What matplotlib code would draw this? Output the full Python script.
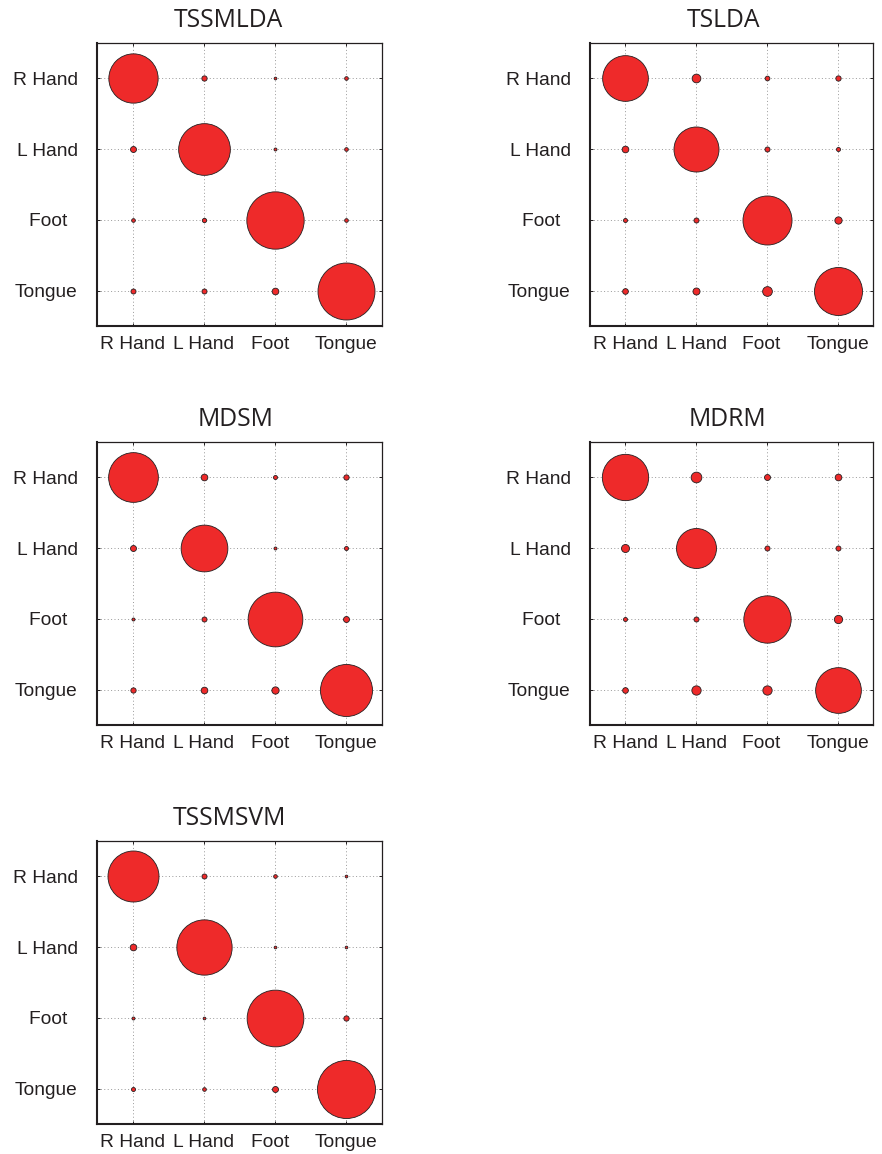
import numpy as np
import matplotlib
matplotlib.use("Agg")
import matplotlib.pyplot as plt

# class order shared by rows (true) and columns (predicted)
classes = ["R Hand", "L Hand", "Foot  ", "Tongue"]

# confusion values in percent, one 4x4 matrix per method
tssmlda = [[72.5, 7.8, 4.0, 5.4],
           [8.8, 76.0, 4.4, 5.4],
           [5.4, 6.3, 84.3, 5.4],
           [7.4, 7.4, 9.8, 83.8]]
tslda = [[67.2, 12.8, 6.9, 7.8],
         [9.8, 66.2, 7.4, 5.9],
         [5.9, 7.4, 72.1, 10.7],
         [8.4, 10.3, 14.3, 70.6]]
mdsm = [[73.1, 9.8, 5.9, 7.8],
        [8.8, 68.7, 4.4, 5.9],
        [4.4, 7.4, 80.4, 8.8],
        [7.8, 9.8, 10.7, 76.5]]
mdrm = [[68.1, 15.7, 8.8, 9.8],
        [11.8, 58.8, 7.4, 7.4],
        [5.9, 7.4, 69.6, 12.2],
        [8.4, 13.7, 13.7, 67.2]]
tssmsvm = [[75.0, 7.4, 5.4, 4.0],
           [9.8, 81.3, 4.0, 4.0],
           [4.4, 4.0, 83.4, 7.8],
           [5.9, 5.4, 8.8, 85.3]]

titles = ["TSSMLDA", "TSLDA", "MDSM", "MDRM", "TSSMSVM"]
matrices = [tssmlda, tslda, mdsm, mdrm, tssmsvm]

plt.rcParams['font.family'] = ['Liberation Sans', 'DejaVu Sans']

W, H = 882, 1154
fig = plt.figure(figsize=(W / 100, H / 100), dpi=100)

# axes boxes in pixels: left, top, width, height
boxes = [(97, 43, 285, 283), (590, 43, 283, 283),
         (97, 442, 285, 283), (590, 442, 283, 283),
         (97, 841, 285, 283)]
title_x = [0.461, 0.473, 0.486, 0.484, 0.463]

px_per_pct = 0.68      # marker diameter in pixels per percent
pt_per_px = 72 / 100

for name, mat, (l, t, w, h), tx in zip(titles, matrices, boxes, title_x):
    ax = fig.add_axes([l / W, 1 - (t + h) / H, w / W, h / H])
    mat = np.array(mat)
    n = len(classes)
    ax.set_xlim(0.5, n + 0.5)
    ax.set_ylim(n + 0.5, 0.5)
    ax.set_xticks(np.arange(1, n + 1))
    ax.set_yticks(np.arange(1, n + 1))
    ax.set_xticklabels(classes, fontsize=13.8, color='#231f20')
    ax.set_yticklabels(classes, fontsize=13.8, color='#231f20')
    ax.tick_params(direction='in', length=2.5, width=0.7, top=True, right=True,
                   color='#231f20')
    ax.tick_params(axis='x', pad=7)
    ax.tick_params(axis='y', pad=14)
    ax.grid(True, linestyle=(0, (1, 2.5)), color='#999999', linewidth=0.7, zorder=0)
    ax.set_axisbelow(True)
    for side, lw in [('left', 1.5), ('bottom', 1.5), ('top', 0.9), ('right', 0.9)]:
        ax.spines[side].set_linewidth(lw)
        ax.spines[side].set_color('#231f20')

    for i in range(n):
        for j in range(n):
            d = mat[i, j] * px_per_pct * pt_per_px
            ax.plot(j + 1, i + 1, 'o', markersize=d, markerfacecolor='#ee2a2a',
                    markeredgecolor='#231f20', markeredgewidth=0.6, zorder=3)

    ax.text(tx, 1.057, name, transform=ax.transAxes, ha='center', va='baseline',
            fontsize=17.8, family=['Open Sans', 'DejaVu Sans'], color='#231f20')

fig.savefig("out.png", dpi=100)
